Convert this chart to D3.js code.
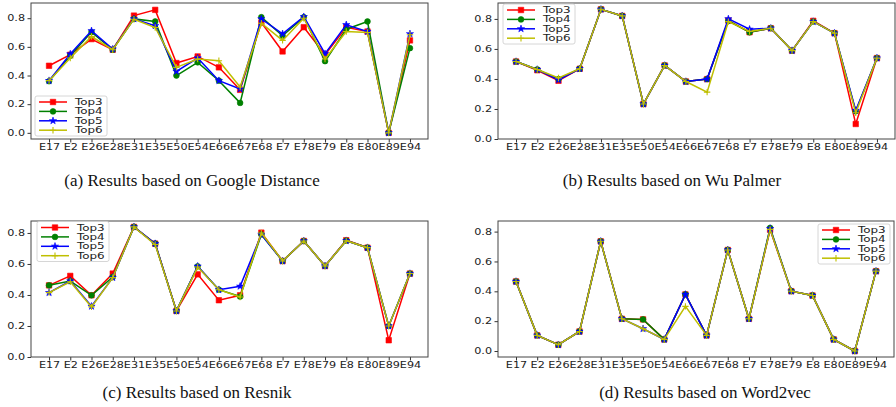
<!DOCTYPE html>
<html>
<head>
<meta charset="utf-8">
<script src="https://cdn.jsdelivr.net/npm/d3@7"></script>
<style>
  body { margin: 0; background: #fff; }
  svg { display: block; }
  .caption { font-family: "Liberation Serif", serif; font-size: 17px; fill: #111; }
</style>
</head>
<body>
<div id="plot"></div>
<script>
// categories on the x axis
const cats = ["E17","E2","E26","E28","E31","E35","E50","E54","E66","E67","E68","E7","E78","E79","E8","E80","E89","E94"];
const seriesNames = ["Top3", "Top4", "Top5", "Top6"];
const yTicks = [0.0, 0.2, 0.4, 0.6, 0.8];

// (a) Google Distance
const gdTop3 = [0.468,0.545,0.654,0.58,0.818,0.858,0.487,0.533,0.457,0.30,0.77,0.568,0.737,0.545,0.737,0.707,0.0,0.645];
const gdTop4 = [0.36,0.538,0.703,0.58,0.795,0.777,0.40,0.492,0.364,0.209,0.807,0.677,0.807,0.50,0.723,0.777,0.0,0.591];
const gdTop5 = [0.364,0.55,0.712,0.584,0.795,0.747,0.429,0.522,0.364,0.306,0.795,0.691,0.81,0.552,0.754,0.707,0.0,0.691];
const gdTop6 = [0.364,0.522,0.672,0.58,0.793,0.735,0.457,0.515,0.503,0.32,0.765,0.645,0.80,0.515,0.707,0.70,0.0,0.684];

// (b) Wu Palmer
const wpTop3 = [0.516,0.458,0.388,0.468,0.864,0.82,0.233,0.49,0.383,0.399,0.789,0.711,0.738,0.589,0.787,0.705,0.10,0.539];
const wpTop4 = [0.516,0.463,0.399,0.468,0.864,0.82,0.233,0.49,0.383,0.399,0.787,0.711,0.738,0.589,0.782,0.705,0.185,0.539];
const wpTop5 = [0.516,0.463,0.394,0.468,0.864,0.82,0.233,0.49,0.383,0.399,0.80,0.731,0.738,0.589,0.782,0.705,0.19,0.539];
const wpTop6 = [0.516,0.463,0.406,0.468,0.864,0.82,0.233,0.49,0.383,0.312,0.782,0.716,0.738,0.589,0.782,0.705,0.175,0.539];

// (c) Resnik
const rsTop3 = [0.462,0.523,0.398,0.538,0.839,0.731,0.297,0.533,0.366,0.398,0.802,0.619,0.748,0.587,0.753,0.705,0.108,0.538];
const rsTop4 = [0.462,0.49,0.398,0.516,0.839,0.731,0.297,0.585,0.434,0.39,0.79,0.619,0.748,0.587,0.75,0.705,0.20,0.538];
const rsTop5 = [0.415,0.49,0.327,0.512,0.839,0.731,0.297,0.585,0.434,0.456,0.79,0.619,0.748,0.587,0.75,0.705,0.20,0.538];
const rsTop6 = [0.415,0.485,0.323,0.512,0.839,0.725,0.297,0.58,0.434,0.387,0.80,0.619,0.748,0.587,0.75,0.705,0.20,0.538];

// (d) Word2vec
const wvTop3 = [0.466,0.105,0.042,0.131,0.735,0.216,0.212,0.078,0.379,0.105,0.677,0.216,0.812,0.401,0.372,0.078,0.0,0.535];
const wvTop4 = [0.466,0.105,0.042,0.131,0.735,0.216,0.212,0.078,0.379,0.105,0.677,0.216,0.825,0.401,0.372,0.078,0.0,0.535];
const wvTop5 = [0.466,0.105,0.042,0.131,0.735,0.216,0.149,0.078,0.379,0.105,0.677,0.216,0.82,0.401,0.372,0.078,0.0,0.535];
const wvTop6 = [0.466,0.105,0.042,0.131,0.735,0.216,0.149,0.078,0.299,0.105,0.677,0.216,0.815,0.401,0.372,0.078,0.0,0.535];

const colors = ["#ff0000", "#008000", "#0000ff", "#bfbf00"];
const markers = ["square", "circle", "star", "plus"];

const panels = [
  { series: [gdTop3, gdTop4, gdTop5, gdTop6], caption: "(a) Results based on Google Distance",
    frame: { x0: 31, x1: 428, y0: 3, y1: 139 }, yDomain: [-0.043, 0.906],
    legend: { x: 35, y: 96 }, capX: 192, capY: 186 },
  { series: [wpTop3, wpTop4, wpTop5, wpTop6], caption: "(b) Results based on Wu Palmer",
    frame: { x0: 498, x1: 895, y0: 3, y1: 139 }, yDomain: [0, 0.906],
    legend: { x: 503, y: 4 }, capX: 672, capY: 186 },
  { series: [rsTop3, rsTop4, rsTop5, rsTop6], caption: "(c) Results based on Resnik",
    frame: { x0: 31, x1: 428, y0: 221, y1: 357 }, yDomain: [0, 0.877],
    legend: { x: 37, y: 221.5 }, capX: 197, capY: 398 },
  { series: [wvTop3, wvTop4, wvTop5, wvTop6], caption: "(d) Results based on Word2vec",
    frame: { x0: 498, x1: 894, y0: 221, y1: 357 }, yDomain: [-0.04, 0.871],
    legend: { x: 818, y: 224 }, capX: 705, capY: 398 }
];

const width = 896, height = 407;
const svg = d3.select("#plot").append("svg")
  .attr("width", width)
  .attr("height", height);

// the original figure was squeezed vertically, so glyphs look wide
const stretch = 1.4;
const tickFont = "DejaVu Sans, sans-serif";

function drawMarker(g, type, color) {
  if (type === "plus") {
    g.append("path")
      .attr("d", "M-3.2,0H3.2M0,-3.2V3.2")
      .attr("stroke", color)
      .attr("stroke-width", 1.1)
      .attr("fill", "none");
    return;
  }
  const sym = { square: d3.symbolSquare, circle: d3.symbolCircle, star: d3.symbolStar }[type];
  const size = { square: 30, circle: 26, star: 16 }[type];
  g.append("path")
    .attr("d", d3.symbol().type(sym).size(size)())
    .attr("fill", color)
    .attr("stroke", color)
    .attr("stroke-width", 0.6);
}

panels.forEach(p => {
  const f = p.frame;
  const x = d3.scaleLinear().domain([-0.85, cats.length - 1 + 0.85]).range([f.x0, f.x1]);
  const y = d3.scaleLinear().domain(p.yDomain).range([f.y1, f.y0]);

  const g = svg.append("g");

  // axes
  const xAxis = g.append("g")
    .attr("transform", `translate(0,${f.y1})`)
    .call(d3.axisBottom(x).tickValues(d3.range(cats.length)).tickFormat(i => cats[i]).tickSize(3.5).tickSizeOuter(0));
  xAxis.select(".domain").remove();
  xAxis.selectAll(".tick line").attr("stroke", "#333");
  xAxis.selectAll(".tick text")
    .attr("y", 5.5)
    .attr("font-family", tickFont)
    .attr("font-size", 8)
    .attr("fill", "#222")
    .attr("transform", `scale(${stretch},1)`);

  const yAxis = g.append("g")
    .attr("transform", `translate(${f.x0},0)`)
    .call(d3.axisLeft(y).tickValues(yTicks).tickFormat(d3.format(".1f")).tickSize(3.5).tickSizeOuter(0));
  yAxis.select(".domain").remove();
  yAxis.selectAll(".tick line").attr("stroke", "#333");
  yAxis.selectAll(".tick text")
    .attr("x", -6 / stretch)
    .attr("font-family", tickFont)
    .attr("font-size", 8)
    .attr("fill", "#222")
    .attr("transform", `scale(${stretch},1)`);

  // lines and markers
  const line = d3.line().x((d, i) => x(i)).y(d => y(d));
  p.series.forEach((vals, si) => {
    g.append("path")
      .datum(vals)
      .attr("fill", "none")
      .attr("stroke", colors[si])
      .attr("stroke-width", 1.5)
      .attr("d", line);
    vals.forEach((v, i) => {
      const mg = g.append("g").attr("transform", `translate(${x(i)},${y(v)})`);
      drawMarker(mg, markers[si], colors[si]);
    });
  });

  // frame
  g.append("rect")
    .attr("x", f.x0).attr("y", f.y0)
    .attr("width", f.x1 - f.x0).attr("height", f.y1 - f.y0)
    .attr("fill", "none")
    .attr("stroke", "#444")
    .attr("stroke-width", 1);

  // legend
  const lg = g.append("g").attr("transform", `translate(${p.legend.x},${p.legend.y})`);
  lg.append("rect")
    .attr("width", 72).attr("height", 40)
    .attr("rx", 2)
    .attr("fill", "#fff")
    .attr("fill-opacity", 0.85)
    .attr("stroke", "#ccc")
    .attr("stroke-width", 0.8);
  seriesNames.forEach((name, si) => {
    const ry = 6 + si * 9.4;
    lg.append("line")
      .attr("x1", 4).attr("x2", 32).attr("y1", ry).attr("y2", ry)
      .attr("stroke", colors[si]).attr("stroke-width", 1.5);
    const mg = lg.append("g").attr("transform", `translate(18,${ry})`);
    drawMarker(mg, markers[si], colors[si]);
    lg.append("text")
      .attr("transform", `translate(40,${ry + 3}) scale(${stretch},1)`)
      .attr("font-family", tickFont)
      .attr("font-size", 8.5)
      .attr("fill", "#222")
      .text(name);
  });

  // caption
  svg.append("text")
    .attr("class", "caption")
    .attr("x", p.capX)
    .attr("y", p.capY)
    .attr("text-anchor", "middle")
    .text(p.caption);
});
</script>
</body>
</html>
